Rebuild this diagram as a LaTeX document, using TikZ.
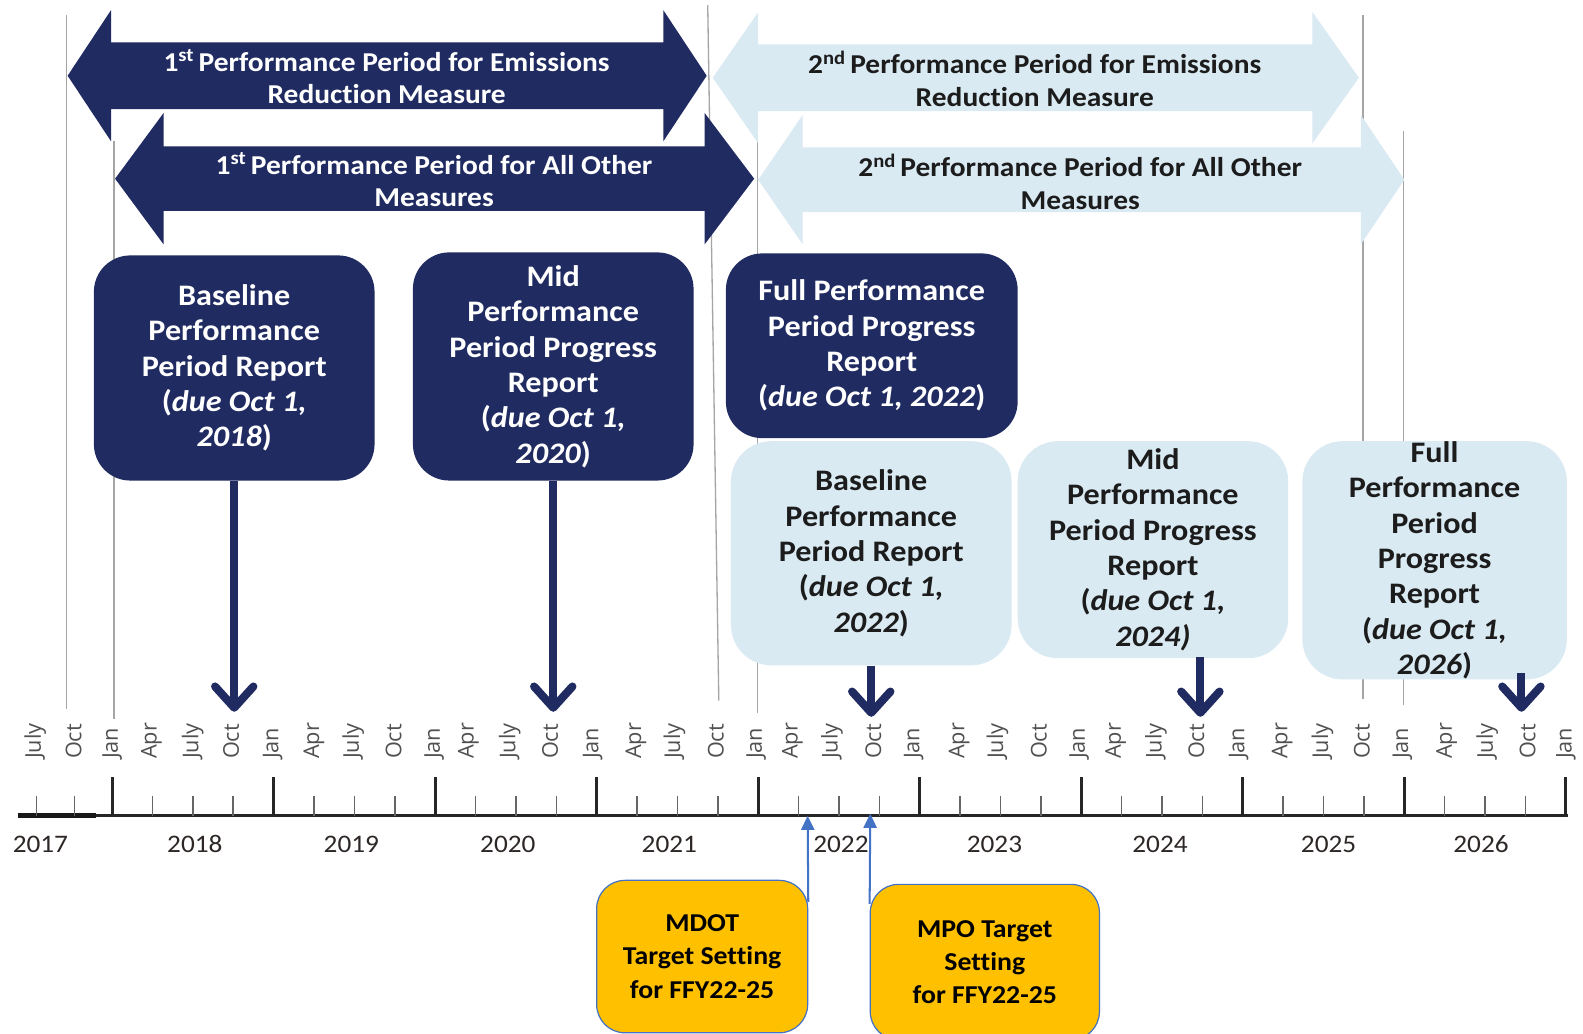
\documentclass[tikz,border=0pt]{standalone}
\usepackage{fontspec}
\setmainfont{Carlito}[FakeStretch=1.08, Ligatures=NoCommon]
\newfontfamily\monthfont{Open Sans}
\usetikzlibrary{arrows.meta}
\definecolor{navy}{RGB}{32,43,97}
\definecolor{lightbl}{RGB}{218,234,243}
\definecolor{gold}{RGB}{255,192,0}
\definecolor{bordblue}{RGB}{68,114,196}
\definecolor{gridgray}{RGB}{165,165,165}
\definecolor{monthgray}{RGB}{80,80,80}
\definecolor{yeartext}{RGB}{45,40,38}
\definecolor{darktext}{RGB}{28,28,28}
\newcommand\dblarrow[8]{%
  \fill[#1] (#2,#6) -- (#3,#6-#8) -- (#3,#6-#7) -- (#4,#6-#7) -- (#4,#6-#8) -- (#5,#6)
    -- (#4,#6+#8) -- (#4,#6+#7) -- (#3,#6+#7) -- (#3,#6+#8) -- cycle;}
\begin{document}
\begin{tikzpicture}[x=1pt,y=-1pt,
  darkbox/.style={fill=navy, text=white, rounded corners=36pt, align=center, inner sep=0pt,
    font=\fontsize{29.5}{35}\selectfont\bfseries},
  lightbox/.style={fill=lightbl, text=darktext, rounded corners=40pt, align=center, inner sep=0pt,
    font=\fontsize{29.5}{35}\selectfont\bfseries},
  goldbox/.style={fill=gold, draw=bordblue, line width=1.2pt, rounded corners=28pt, text=black,
    align=center, inner sep=0pt, font=\fontsize{25.5}{33}\selectfont\bfseries},
  arrowtext/.style={align=center, inner sep=0pt, font=\fontsize{27}{32}\selectfont\bfseries},
  navyarrow/.style={draw=navy, line width=8pt, -{Straight Barb[length=21pt,width=38pt,round]}},
  bluearrow/.style={draw=bordblue, line width=2pt, -{Triangle[length=14pt,width=13pt]}},
  gridline/.style={draw=gridgray, line width=1.3pt},
  month/.style={rotate=90, anchor=west, inner sep=0pt, text=monthgray, font=\monthfont\fontsize{21.5}{24}\selectfont},
  year/.style={inner sep=0pt, text=yeartext, font=\fontsize{25}{27}\selectfont},
  majortick/.style={draw=black!85, line width=3pt},
  minortick/.style={draw=black!60, line width=1.5pt}
]
\useasboundingbox[fill=white] (0,0) rectangle (1568,1024);

% vertical grid lines
\draw[gridline] (66,15) -- (66,702);
\draw[gridline] (113,140) -- (113,712);
\draw[gridline] (701,5) -- (712,694);
\draw[gridline] (750,140) -- (750,706);
\draw[gridline] (1350,15) -- (1350,692);
\draw[gridline] (1390,130) -- (1390,698);

% period arrows
\dblarrow{navy}{67}{110}{657}{700}{75}{33}{65}
\dblarrow{navy}{114}{162}{698}{747}{177}{32}{65}
\dblarrow{lightbl}{706}{751}{1300}{1346}{77}{33}{65}
\dblarrow{lightbl}{751}{795}{1348}{1391}{178}{32}{64}

\node[arrowtext, text=white] (p1e) at (383,76) {1\textsuperscript{st}\,Performance Period for Emissions\\Reduction Measure};
\node[arrowtext, text=white] (p1o) at (430,178) {1\textsuperscript{st}\,Performance Period for All Other\\Measures};
\node[arrowtext, text=darktext] (p2e) at (1025,78) {2\textsuperscript{nd}\,Performance Period for Emissions\\Reduction Measure};
\node[arrowtext, text=darktext] (p2o) at (1070,180) {2\textsuperscript{nd}\,Performance Period for All Other\\Measures};

% report boxes
\node[darkbox, minimum width=278pt, minimum height=223pt] (A) at (232,364.5)
  {Baseline\\Performance\\Period Report\\(\textit{due Oct 1,}\\\textit{2018})};
\node[darkbox, minimum width=278pt, minimum height=226pt] (B) at (548,363)
  {Mid\\Performance\\Period Progress\\Report\\(\textit{due Oct 1,}\\\textit{2020})};
\node[darkbox, minimum width=289pt, minimum height=183pt] (C) at (863.5,342.5)
  {Full Performance\\Period Progress\\Report\\(\textit{due Oct 1, 2022})};
\node[lightbox, minimum width=278pt, minimum height=222pt] (D) at (863,548)
  {Baseline\\Performance\\Period Report\\(\textit{due Oct 1,}\\\textit{2022})};
\node[lightbox, minimum width=268pt, minimum height=215pt] (E) at (1142,544.5)
  {Mid\\Performance\\Period Progress\\Report\\(\textit{due Oct 1,}\\\textit{2024)}};
\node[lightbox, minimum width=262pt, minimum height=236pt] (F) at (1421,555)
  {Full\\Performance\\Period\\Progress\\Report\\(\textit{due Oct 1,}\\\textit{2026})};

% timeline axis
\draw[draw=black!85, line width=3pt] (18,808) -- (1553,808);
\draw[draw=black!90, line width=4.5pt] (18,808) -- (95,808);
\foreach \x in {111,271,...,1551} \draw[majortick] (\x,808) -- (\x,770);
\foreach \x in {36,74} \draw[minortick] (\x,808) -- (\x,788);
\foreach \k in {0,...,8} \foreach \j in {1,2,3}
  \draw[minortick] ({111+160*\k+40*\j},808) -- ({111+160*\k+40*\j},788);

\foreach \x/\t [count=\i] in {35/July,73/Oct,111/Jan,150/Apr,191/July,229/Oct,270/Jan,311/Apr,350/July,390/Oct,
  430/Jan,464/Apr,505/July,545/Oct,587/Jan,630/Apr,668/July,709/Oct,749/Jan,785/Apr,824/July,865/Oct,
  905/Jan,950/Apr,988/July,1029/Oct,1069/Jan,1105/Apr,1145/July,1185/Oct,1227/Jan,1270/Apr,1310/July,
  1349/Oct,1389/Jan,1433/Apr,1473/July,1513/Oct,1551/Jan}
  \node[month] (m\i) at (\x,752) {\t};

\foreach \x/\t in {40/2017,193/2018,348/2019,503/2020,663/2021,833/2022,985/2023,1149/2024,1316/2025,1467/2026}
  \node[year] (y\t) at (\x,836) {\t};

% report arrows down to the timeline
\coordinate (tA) at (232,705);
\coordinate (tB) at (548,705);
\coordinate (tD) at (863,710);
\coordinate (tE) at (1189,710);
\coordinate (tF) at (1507,705);
\coordinate (sE) at (1189,651);
\coordinate (sF) at (1507,667);
\draw[navyarrow] (A.south) -- (tA);
\draw[navyarrow] (B.south) -- (tB);
\draw[navyarrow] (D.south) -- (tD);
\draw[navyarrow] (sE) -- (tE);
\draw[navyarrow] (sF) -- (tF);

% target setting boxes
\node[goldbox, minimum width=209pt, minimum height=151pt] (G) at (695.5,947.5)
  {MDOT\\Target Setting\\for FFY22-25};
\node[goldbox, minimum width=227pt, minimum height=154pt] (H) at (975.5,953)
  {MPO Target\\Setting\\for FFY22-25};
\coordinate (aG) at (800,808);
\coordinate (aH) at (862,806);
\draw[bluearrow] ([yshift=-22pt]G.north east) -- (aG);
\draw[bluearrow] ([yshift=-20pt]H.north west) -- (aH);
\end{tikzpicture}
\end{document}
